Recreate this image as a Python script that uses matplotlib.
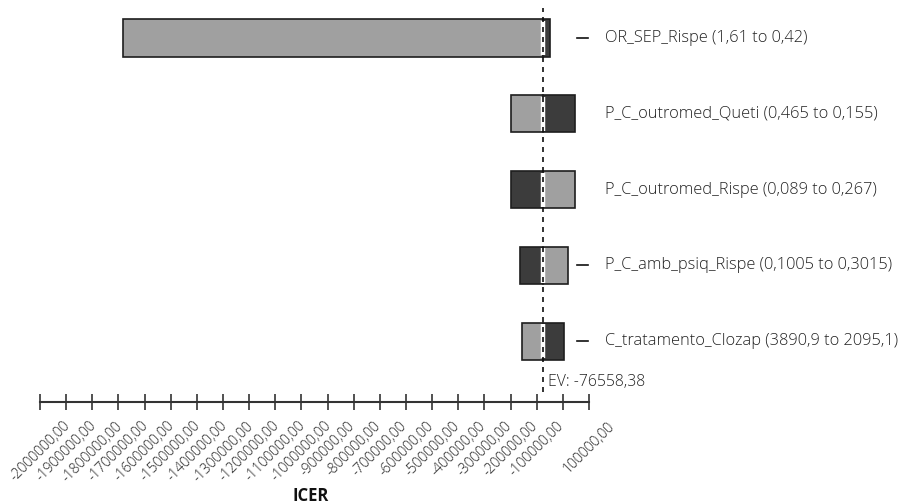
import matplotlib.pyplot as plt
import matplotlib.transforms as mtransforms
from matplotlib.ticker import FixedLocator, FuncFormatter
import numpy as np

plt.rcParams['font.family'] = ['Open Sans', 'DejaVu Sans']

# tornado rows, bottom to top
variables = ["C_tratamento_Clozap (3890,9 to 2095,1)",
             "P_C_amb_psiq_Rispe (0,1005 to 0,3015)",
             "P_C_outromed_Rispe (0,089 to 0,267)",
             "P_C_outromed_Queti (0,465 to 0,155)",
             "OR_SEP_Rispe (1,61 to 0,42)"]
# ICER at the light end and at the dark end of each range
icer_light = [-155700, 18000, 47000, -197800, -1683000]
icer_dark = [5000, -165600, -197800, 47000, -49700]
ev = -76558.38

ticks = np.arange(-2000000, 100001, 100000)

LIGHT = '#a0a0a0'
DARK = '#3c3c3c'
EDGE = '#1e1e1e'
TXT = '#222222'

fig = plt.figure(figsize=(9.04, 5.04), dpi=100)
ax = fig.add_axes([40 / 904, 102 / 504, 549 / 904, 402 / 504])

rows = np.arange(len(variables))
h = 0.49
for y, lo, hi in zip(rows, icer_light, icer_dark):
    ax.barh(y, lo - ev, left=ev, height=h, color=LIGHT, edgecolor=EDGE, linewidth=1.2, zorder=2)
    ax.barh(y, hi - ev, left=ev, height=h, color=DARK, edgecolor=EDGE, linewidth=1.2, zorder=2)
    # white gap between the two halves
    ax.plot([ev, ev], [y - h / 2 + 0.02, y + h / 2 - 0.02], color='white', lw=3.2, zorder=3,
            solid_capstyle='butt')

ax.axvline(ev, ymin=0.025, ymax=0.98, color='#111111', lw=1.2, ls=(0, (3, 3)), zorder=4)

trans = mtransforms.blended_transform_factory(ax.transAxes, ax.transData)
for y, lo, hi, name in zip(rows, icer_light, icer_dark, variables):
    # skip the tick when the bar runs right up to it
    if max(lo, hi) < 30000:
        ax.plot([0.978, 0.998], [y, y], color='#111111', lw=1.2, transform=trans, clip_on=False)
    ax.text(1.029, y, name, transform=trans, ha='left', va='center', fontsize=11.8,
            fontweight='light', color=TXT, clip_on=False)

ax.annotate("EV: -76558,38", xy=(ev, 0.05), xycoords=('data', 'axes fraction'),
            xytext=(4, 0), textcoords='offset points', ha='left', va='center',
            fontsize=11.3, fontweight='light', color=TXT)

ax.set_xlim(-2000000, 100000)
ax.set_ylim(-0.8, 4.5)

for side in ['top', 'right', 'left']:
    ax.spines[side].set_visible(False)
ax.spines['bottom'].set_linewidth(1.5)
ax.spines['bottom'].set_color('#333333')
ax.set_yticks([])

ax.xaxis.set_major_locator(FixedLocator(ticks))
ax.xaxis.set_major_formatter(FuncFormatter(
    lambda v, p: '' if v == 0 else ('%.2f' % v).replace('.', ',')))
ax.tick_params(axis='x', direction='inout', length=12, width=1.2, color='#333333',
               labelsize=10.1, labelcolor=TXT, pad=6)
plt.setp(ax.get_xticklabels(), rotation=45, ha='center', fontweight='light')

fig.text(311 / 904, 1 - 496 / 504, "ICER", ha='center', va='center', fontsize=12,
         fontweight='bold', color='#111111')

fig.savefig('out.png', dpi=100)
